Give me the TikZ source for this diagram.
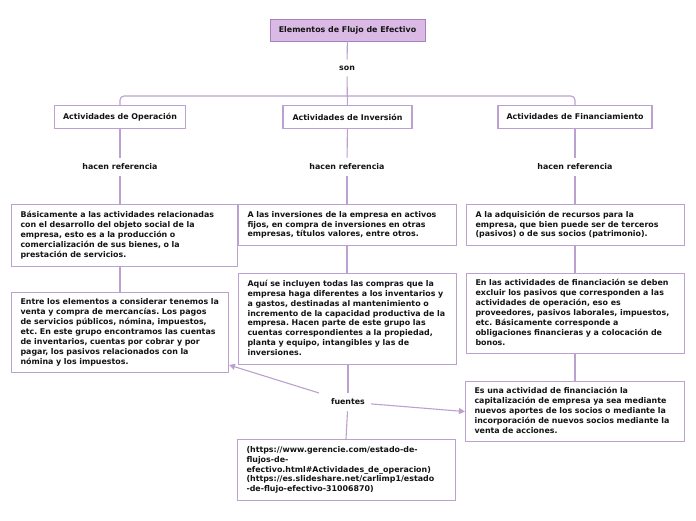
\documentclass[tikz,border=0pt]{standalone}
\usepackage{fontspec}
\setmainfont{DejaVu Sans}
\usetikzlibrary{arrows.meta}
\definecolor{linec}{RGB}{188,160,208}
\definecolor{boxc}{RGB}{188,160,208}
\definecolor{titlefill}{RGB}{218,186,228}
\definecolor{titledraw}{RGB}{168,128,190}
\definecolor{txt}{RGB}{20,20,20}
\newcommand{\txtlines}[1]{\begin{tabular}{@{}l@{}}#1\end{tabular}}
\tikzset{
  basefont/.style={font=\fontsize{7.9}{9.9}\selectfont\bfseries\frenchspacing, text=txt},
  textbox/.style={basefont, draw=boxc, line width=1.1pt, fill=white, align=left, anchor=north west, inner xsep=9pt, inner ysep=0pt},
  headbox/.style={basefont, draw=boxc, line width=1.1pt, fill=white, minimum height=23pt, inner xsep=0pt},
  lbl/.style={basefont, inner sep=6pt},
  conn/.style={draw=linec, line width=1.1pt},
  arr/.style={conn, -{Triangle[width=6pt,length=6pt]}}
}
\begin{document}
\begin{tikzpicture}[x=1pt,y=-1pt]
\useasboundingbox (0,0) rectangle (696,520);
% title
\node[basefont, draw=titledraw, fill=titlefill, line width=0.8pt, minimum width=155pt, minimum height=22pt, inner sep=0pt] (title) at (347.5,30) {Elementos de Flujo de Efectivo};
\node[lbl] (son) at (347,68) {son};
% heads
\node[headbox, minimum width=131pt] (op) at (120,117) {Actividades de Operación};
\node[headbox, minimum width=129pt] (inv) at (347.5,117) {Actividades de Inversión};
\node[headbox, minimum width=154pt] (fin) at (575,117) {Actividades de Financiamiento};
% labels
\node[lbl] (h1) at (120,167) {hacen referencia};
\node[lbl] (h2) at (347,167) {hacen referencia};
\node[lbl] (h3) at (575,167) {hacen referencia};
% text boxes
\node[textbox, text width=208pt, minimum height=62pt] (lb1) at (11,204) {\txtlines{Básicamente a las actividades relacionadas\\con el desarrollo del objeto social de la\\empresa, esto es a la producción o\\comercialización de sus bienes, o la\\prestación de servicios.}};
\node[textbox, text width=199pt, minimum height=80pt] (lb2) at (11,292) {\txtlines{Entre los elementos a considerar tenemos la\\venta y compra de mercancías. Los pagos\\de servicios públicos, nómina, impuestos,\\etc. En este grupo encontramos las cuentas\\de inventarios, cuentas por cobrar y por\\pagar, los pasivos relacionados con la\\nómina y los impuestos.}};
\node[textbox, text width=200pt, minimum height=41pt] (mb1) at (238,204) {\txtlines{A las inversiones de la empresa en activos\\fijos, en compra de inversiones en otras\\empresas, títulos valores, entre otros.}};
\node[textbox, text width=200pt, minimum height=91pt] (mb2) at (238,273) {\txtlines{Aquí se incluyen todas las compras que la\\empresa haga diferentes a los inventarios y\\a gastos, destinadas al mantenimiento o\\incremento de la capacidad productiva de la\\empresa. Hacen parte de este grupo las\\cuentas correspondientes a la propiedad,\\planta y equipo, intangibles y las de\\inversiones.}};
\node[textbox, text width=200pt, minimum height=41pt] (rb1) at (466,204) {\txtlines{A la adquisición de recursos para la\\empresa, que bien puede ser de terceros\\(pasivos) o de sus socios (patrimonio).}};
\node[textbox, text width=200pt, minimum height=80pt] (rb2) at (466,273) {\txtlines{En las actividades de financiación se deben\\excluir los pasivos que corresponden a las\\actividades de operación, eso es\\proveedores, pasivos laborales, impuestos,\\etc. Básicamente corresponde a\\obligaciones financieras y a colocación de\\bonos.}};
\node[textbox, text width=201pt, minimum height=60pt] (rb3) at (465,381) {\txtlines{Es una actividad de financiación la\\capitalización de empresa ya sea mediante\\nuevos aportes de los socios o mediante la\\incorporación de nuevos socios mediante la\\venta de acciones.}};
\node[lbl] (fu) at (348,402) {fuentes};
\node[textbox, text width=200pt, minimum height=61pt] (fb) at (237,439) {\txtlines{(https://www.gerencie.com/estado-de-\\flujos-de-\\efectivo.html\#Actividades\_de\_operacion)\\(https://es.slideshare.net/carlimp1/estado\\-de-flujo-efectivo-31006870)}};
\coordinate (lt) at (229,365);
% connectors
\draw[conn] (title) -- (son);
\draw[conn] (son) -- (inv);
\draw[conn, rounded corners=4pt] (op.north) -- (120,96) -- (575,96) -- (fin.north);
\draw[conn] (op) -- (h1);
\draw[conn] (inv) -- (h2);
\draw[conn] (fin) -- (h3);
\draw[conn] (h1) -- (h1 |- lb1.north);
\draw[conn] (h2) -- (h2 |- mb1.north);
\draw[conn] (h3) -- (h3 |- rb1.north);
\draw[conn] (120,266) -- (120,292);
\draw[conn] (mb1.south -| h2) -- (mb2.north -| h2);
\draw[conn] (rb1.south -| h3) -- (rb2.north -| h3);
\draw[conn] (rb2.south -| h3) -- (rb3.north -| h3);
\draw[conn] (mb2.south -| fu) -- (fu);
\draw[conn] (fu) -- (346,439);
\draw[arr, shorten <=6pt] (fu) -- (lt);
\draw[arr] (fu) -- (rb3.west);
\end{tikzpicture}
\end{document}
